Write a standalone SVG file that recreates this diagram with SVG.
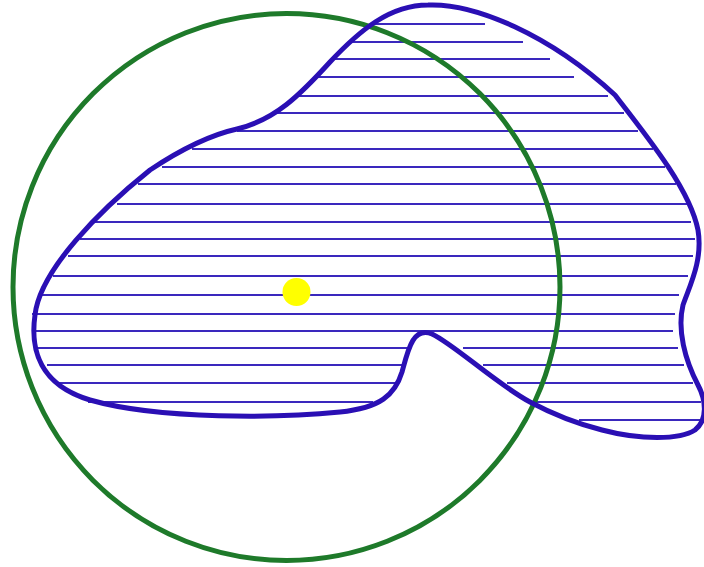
<svg xmlns="http://www.w3.org/2000/svg" width="704" height="567" viewBox="0 0 704 567">
<style>
.hatch{stroke:#3a28bd;stroke-width:2;fill:none}
.outline{stroke:#2a0fb4;stroke-width:5;fill:none;stroke-linejoin:round}
.ring{stroke:#1e7a2a;stroke-width:5;fill:none}
.dot{fill:#ffff00}
</style>
<rect width="704" height="567" fill="#ffffff"/>
<g id="hatching">
<line class="hatch" x1="375" y1="24" x2="485" y2="24"/>
<line class="hatch" x1="350" y1="42" x2="523" y2="42"/>
<line class="hatch" x1="331" y1="59" x2="550" y2="59"/>
<line class="hatch" x1="315" y1="77" x2="574" y2="77"/>
<line class="hatch" x1="295" y1="96" x2="608" y2="96"/>
<line class="hatch" x1="273" y1="113" x2="624" y2="113"/>
<line class="hatch" x1="237" y1="131" x2="638" y2="131"/>
<line class="hatch" x1="192" y1="149" x2="653" y2="149"/>
<line class="hatch" x1="162" y1="167" x2="665" y2="167"/>
<line class="hatch" x1="138" y1="184" x2="676" y2="184"/>
<line class="hatch" x1="117" y1="204" x2="688" y2="204"/>
<line class="hatch" x1="95" y1="222" x2="691" y2="222"/>
<line class="hatch" x1="80" y1="239" x2="695" y2="239"/>
<line class="hatch" x1="68" y1="256" x2="693" y2="256"/>
<line class="hatch" x1="53" y1="276" x2="688" y2="276"/>
<line class="hatch" x1="42" y1="295" x2="679" y2="295"/>
<line class="hatch" x1="32" y1="314" x2="675" y2="314"/>
<line class="hatch" x1="35" y1="331" x2="673" y2="331"/>
<line class="hatch" x1="37" y1="348" x2="408" y2="348"/>
<line class="hatch" x1="463" y1="348" x2="678" y2="348"/>
<line class="hatch" x1="47" y1="365" x2="403" y2="365"/>
<line class="hatch" x1="483" y1="365" x2="684" y2="365"/>
<line class="hatch" x1="55" y1="383" x2="398" y2="383"/>
<line class="hatch" x1="507" y1="383" x2="693" y2="383"/>
<line class="hatch" x1="88" y1="402" x2="373" y2="402"/>
<line class="hatch" x1="533" y1="402" x2="701" y2="402"/>
<line class="hatch" x1="579" y1="420" x2="704" y2="420"/>
</g>
<g id="circle">
<circle class="ring" cx="286.5" cy="287" r="273.5"/>
</g>
<g id="blob">
<path class="outline" d="M 237 129 C 275 120, 300 95, 330 62 C 360 30, 390 5, 428 5 C 475 3, 550 35, 615 95 C 650 140, 690 190, 698 230 C 703 260, 690 285, 683 305 C 677 330, 685 360, 698 385 C 706 400, 708 420, 695 430 C 680 440, 640 440, 602 430 C 570 422, 545 410, 530 402 C 495 383, 455 345, 432 334 C 413 326, 408 350, 402 372 C 395 395, 380 408, 340 412 C 280 418, 160 420, 90 400 C 40 385, 30 350, 35 315 C 40 270, 100 210, 150 170 C 180 150, 210 135, 237 129 Z"/>
</g>
<g id="point">
<circle class="dot" cx="296.5" cy="292" r="14"/>
</g>
</svg>
